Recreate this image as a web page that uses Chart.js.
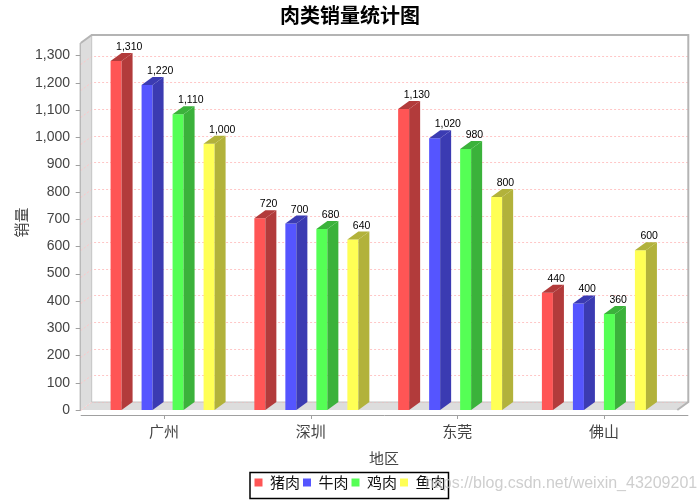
<!DOCTYPE html>
<html>
<head>
<meta charset="utf-8">
<title>肉类销量统计图</title>
<script src="https://cdn.jsdelivr.net/npm/chart.js@4.4.1/dist/chart.umd.min.js"></script>
<style>
  html, body { margin: 0; padding: 0; background: #fff; }
  canvas { display: block; }
</style>
</head>
<body>
<canvas id="chart" width="700" height="500"></canvas>
<script>
// data
const categories = ['广州', '深圳', '东莞', '佛山'];
const seriesNames = ['猪肉', '牛肉', '鸡肉', '鱼肉'];
const pork    = [1310, 720, 1130, 440];
const beef    = [1220, 700, 1020, 400];
const chicken = [1110, 680, 980, 360];
const fish    = [1000, 640, 800, 600];
const yTickValues = [0, 100, 200, 300, 400, 500, 600, 700, 800, 900, 1000, 1100, 1200, 1300];

const frontColors = ['#ff5555', '#5555ff', '#55ff55', '#ffff55'];
const sideColors  = ['#b23b3b', '#3b3bb2', '#3bb23b', '#b2b23b'];
const DX = 11, DY = 8;          // 3d depth offset
const WALL_PAD = 10;            // left wall sits a bit left of the category area
const CJK = '"Noto Sans CJK SC", sans-serif';
const LATIN = '"Liberation Sans", Arial, sans-serif';

const allSeries = [pork, beef, chicken, fish];

// 3d frame, back-wall grid and axis lines
const frame3d = {
  id: 'frame3d',
  beforeDatasetsDraw(chart) {
    const {ctx, chartArea: a, scales} = chart;
    const yb = scales.yb, y = scales.y, x = scales.x;
    const L = a.left - WALL_PAD, R = a.right, B = a.bottom, T = a.top + DY;
    ctx.save();
    ctx.fillStyle = '#dddddd';
    ctx.beginPath();
    ctx.moveTo(L, B); ctx.lineTo(L, T); ctx.lineTo(L + DX, T - DY); ctx.lineTo(L + DX, B - DY);
    ctx.closePath(); ctx.fill();
    ctx.beginPath();
    ctx.moveTo(L, B); ctx.lineTo(L + DX, B - DY); ctx.lineTo(R + DX, B - DY); ctx.lineTo(R, B);
    ctx.closePath(); ctx.fill();

    // grid lines on the back wall
    ctx.strokeStyle = '#ffc6c6';
    ctx.lineWidth = 1;
    ctx.setLineDash([2, 2]);
    y.ticks.forEach(t => {
      const py = Math.round(yb.getPixelForValue(t.value) - DY) + 0.5;
      ctx.beginPath();
      ctx.moveTo(L, py + DY); ctx.lineTo(L + DX, py); ctx.lineTo(R + DX, py);
      ctx.stroke();
    });
    ctx.setLineDash([]);

    // wall edges
    ctx.strokeStyle = '#c4c4c4';
    ctx.lineWidth = 1;
    ctx.beginPath();
    ctx.moveTo(L + DX, T - DY); ctx.lineTo(L + DX, B - DY); ctx.lineTo(R + DX, B - DY);
    ctx.stroke();
    ctx.strokeStyle = '#b4b4b4';
    ctx.lineWidth = 2;
    ctx.beginPath();
    ctx.moveTo(L, T); ctx.lineTo(L + DX, T - DY); ctx.lineTo(R + DX, T - DY);
    ctx.lineTo(R + DX, B - DY); ctx.lineTo(R, B);
    ctx.stroke();

    // axis lines + tick marks
    ctx.strokeStyle = '#a0a0a0';
    ctx.lineWidth = 1;
    ctx.beginPath();
    ctx.moveTo(L - 0.5, T); ctx.lineTo(L - 0.5, B + 1);
    y.ticks.forEach(t => {
      const py = Math.round(y.getPixelForValue(t.value)) + 0.5;
      ctx.moveTo(L - 5, py); ctx.lineTo(L - 0.5, py);
    });
    ctx.moveTo(L, B + 5.5); ctx.lineTo(R + DX, B + 5.5);
    x.ticks.forEach((t, i) => {
      const px = Math.round(x.getPixelForTick(i)) + 0.5;
      ctx.moveTo(px, B + 5.5); ctx.lineTo(px, B + 9);
    });
    ctx.stroke();
    ctx.restore();
  },
  afterDatasetsDraw(chart) {
    const {ctx} = chart;
    ctx.save();
    chart.data.datasets.forEach((ds, di) => {
      chart.getDatasetMeta(di).data.forEach((bar, i) => {
        const {x, y, base, width} = bar.getProps(['x', 'y', 'base', 'width'], true);
        const l = x - width / 2, r = x + width / 2;
        ctx.fillStyle = sideColors[di];
        ctx.beginPath();
        ctx.moveTo(r, base); ctx.lineTo(r, y); ctx.lineTo(r + DX, y - DY); ctx.lineTo(r + DX, base - DY);
        ctx.closePath(); ctx.fill();
        ctx.beginPath();
        ctx.moveTo(l, y); ctx.lineTo(l + DX, y - DY); ctx.lineTo(r + DX, y - DY); ctx.lineTo(r, y);
        ctx.closePath(); ctx.fill();
        ctx.fillStyle = '#000';
        ctx.font = '10.5px ' + LATIN;
        ctx.textAlign = 'left';
        ctx.textBaseline = 'alphabetic';
        ctx.fillText(allSeries[di][i].toLocaleString('en-US'), x, y - DY - 3);
      });
    });
    ctx.restore();
  },
  afterDraw(chart) {
    const {ctx, legend} = chart;
    const hb = legend.legendHitBoxes;
    ctx.save();
    if (hb && hb.length) {
      const first = hb[0], last = hb[hb.length - 1];
      ctx.strokeStyle = '#000';
      ctx.lineWidth = 1.5;
      const x0 = first.left - 4.5, x1 = last.left + last.width + 3;
      ctx.strokeRect(x0, legend.top + 0.5, x1 - x0, chart.height - legend.top - 2);
    }
    ctx.fillStyle = 'rgba(190,190,190,0.75)';
    ctx.font = '16px ' + LATIN;
    ctx.textAlign = 'left';
    ctx.textBaseline = 'alphabetic';
    ctx.fillText('https://blog.csdn.net/weixin_43209201', 425, 487.5);
    ctx.restore();
  }
};

new Chart(document.getElementById('chart'), {
  type: 'bar',
  data: {
    labels: categories,
    datasets: allSeries.map((vals, k) => ({
      label: seriesNames[k],
      data: vals.map((v, i) => ({x: i, y: v})),
      backgroundColor: frontColors[k],
      borderWidth: 0,
      xAxisID: 'xb',
      yAxisID: 'yb',
      categoryPercentage: 0.8625,
      barPercentage: 0.355
    }))
  },
  options: {
    responsive: false,
    devicePixelRatio: 1,
    animation: false,
    layout: {padding: 0},
    plugins: {
      title: {
        display: true,
        text: '肉类销量统计图',
        color: '#000',
        font: {family: CJK, size: 20, weight: 'bold', lineHeight: 1.2},
        padding: {top: 3, bottom: 8}
      },
      legend: {
        position: 'bottom',
        labels: {
          font: {family: CJK, size: 15},
          color: '#111',
          boxWidth: 8,
          boxHeight: 8,
          padding: 3
        }
      },
      tooltip: {enabled: false}
    },
    scales: {
      // visible axes (labels and ticks)
      x: {
        type: 'category',
        position: 'bottom',
        offset: true,
        grid: {display: false, drawTicks: false},
        border: {display: false},
        ticks: {color: '#444', font: {family: CJK, size: 15}, padding: 12},
        title: {display: true, text: '地区', color: '#444', font: {family: CJK, size: 15}, padding: {top: 0, bottom: 5}},
        afterFit: s => { s.height = 62; }
      },
      y: {
        type: 'linear',
        position: 'left',
        min: 0,
        max: 1375,
        afterBuildTicks: s => { s.ticks = yTickValues.map(v => ({value: v})); },
        grid: {display: false, drawTicks: false},
        border: {display: false},
        ticks: {
          color: '#444',
          font: {family: LATIN, size: 14},
          padding: 20.7,
          callback: v => v.toLocaleString('en-US')
        },
        title: {display: true, text: '销量', color: '#444', font: {family: CJK, size: 15}, padding: {top: 12, bottom: 0}},
        afterFit: s => { s.width = 90.7; }
      },
      // empty right-hand strip that holds the 3d depth of the plot
      depth: {
        type: 'linear',
        position: 'right',
        grid: {display: false, drawTicks: false},
        border: {display: false},
        ticks: {display: false},
        afterFit: s => { s.width = 22.7; }
      },
      // hidden axes that place the bar fronts
      xb: {
        type: 'linear',
        display: false,
        offset: false,
        grid: {offset: false},
        min: -0.5,
        max: 3.58,
        afterBuildTicks: s => { s.ticks = categories.map((c, i) => ({value: i})); }
      },
      yb: {
        type: 'linear',
        display: false,
        min: 0,
        max: 1408
      }
    }
  },
  plugins: [frame3d]
});
</script>
</body>
</html>
